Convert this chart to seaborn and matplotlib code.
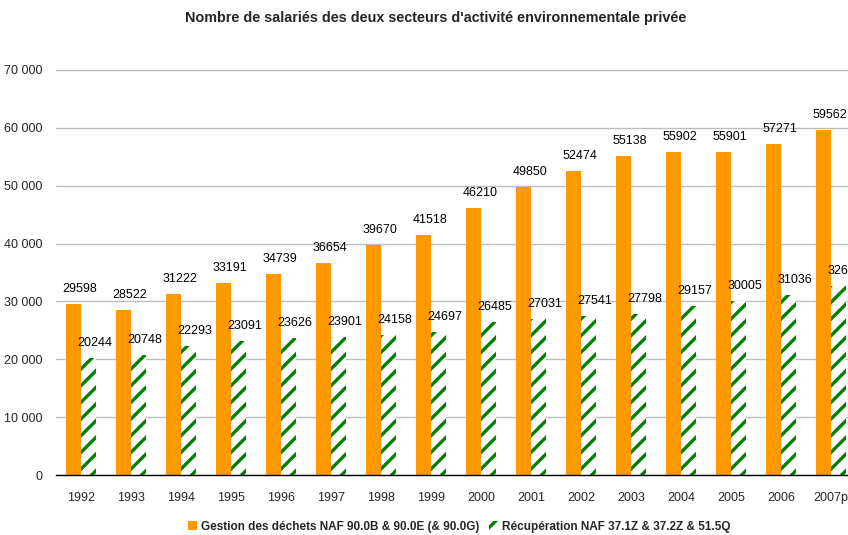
import pandas as pd
import seaborn as sns
import matplotlib.pyplot as plt
from matplotlib.patches import Patch
from matplotlib.ticker import FuncFormatter, FixedLocator

# --- donnees ---
annees = ['1992', '1993', '1994', '1995', '1996', '1997', '1998', '1999',
          '2000', '2001', '2002', '2003', '2004', '2005', '2006', '2007p']
gestion_dechets = [29598, 28522, 31222, 33191, 34739, 36654, 39670, 41518,
                   46210, 49850, 52474, 55138, 55902, 55901, 57271, 59562]
recuperation = [20244, 20748, 22293, 23091, 23626, 23901, 24158, 24697,
                26485, 27031, 27541, 27798, 29157, 30005, 31036, 32692]

serie_1 = 'Gestion des déchets NAF 90.0B & 90.0E (& 90.0G)'
serie_2 = 'Récupération NAF 37.1Z & 37.2Z & 51.5Q'

df = pd.DataFrame({
    'Annee': annees * 2,
    'Salaries': gestion_dechets + recuperation,
    'Secteur': [serie_1] * len(annees) + [serie_2] * len(annees),
})

orange = '#FF9900'
vert = '#008000'

sns.set_style('white')
plt.rcParams['font.family'] = ['Liberation Sans', 'DejaVu Sans']
plt.rcParams['hatch.linewidth'] = 2.4

fig = plt.figure(figsize=(8.48, 5.35), dpi=100)
ax = fig.add_axes([56 / 848, 60 / 535, 800 / 848, 405 / 535])

sns.barplot(data=df, x='Annee', y='Salaries', hue='Secteur', order=annees,
            hue_order=[serie_1, serie_2], palette=[orange, 'white'],
            width=0.6, ax=ax, legend=False, saturation=1)

# barres vertes hachurees
for p in ax.containers[1]:
    p.set_hatch('//')
    p.set_edgecolor(vert)
    p.set_linewidth(0)
for p in ax.containers[0]:
    p.set_linewidth(0)

# etiquettes de valeurs
for cont, vals in zip(ax.containers, [gestion_dechets, recuperation]):
    for p, v in zip(cont, vals):
        ax.annotate(str(v), (p.get_x() + p.get_width() / 2, p.get_height()),
                    xytext=(4.5, 6.5), textcoords='offset points',
                    ha='center', va='bottom', fontsize=9, color='black',
                    annotation_clip=False)

ax.set_ylim(0, 70000)
ax.set_xlim(-0.5, len(annees) - 0.5)
ax.set_yticks(range(0, 70001, 10000))
ax.yaxis.set_major_formatter(FuncFormatter(lambda v, _: f'{int(v):,}'.replace(',', ' ')))
ax.yaxis.grid(True, color='#bdbdbd', linewidth=1)
ax.set_axisbelow(True)
ax.set_xlabel('')
ax.set_ylabel('')

for s in ['left', 'right', 'top']:
    ax.spines[s].set_visible(False)
ax.spines['bottom'].set_color('black')
ax.spines['bottom'].set_linewidth(1)

ax.tick_params(axis='y', length=0, labelsize=9, pad=10)
ax.tick_params(axis='x', which='major', length=0, labelsize=9, pad=12)
ax.xaxis.set_minor_locator(FixedLocator([i - 0.5 for i in range(len(annees) + 1)]))
ax.tick_params(axis='x', which='minor', length=5, width=1, color='black', direction='out')

fig.text(436 / 848, 1 - 18 / 535, "Nombre de salariés des deux secteurs d'activité environnementale privée",
         ha='center', va='center', fontsize=10.4, fontweight='bold')

handles = [Patch(facecolor=orange, edgecolor='none'),
           Patch(facecolor='white', edgecolor=vert, hatch='//', linewidth=0)]
leg = fig.legend(handles, [serie_1, serie_2], loc='center', bbox_to_anchor=(459 / 848, 1 - 527 / 535),
                 ncol=2, frameon=False, handlelength=0.8, handleheight=0.8,
                 handletextpad=0.3, columnspacing=0.8, prop={'size': 8.5, 'weight': 'bold'})

fig.savefig('out.png', dpi=100)
